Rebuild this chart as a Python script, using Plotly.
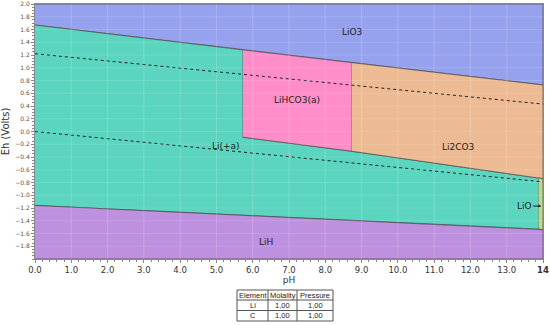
import plotly.graph_objects as go

# ---- data ----
ph_split = [0.0, 5.73, 8.73, 13.88, 14.0]          # pH of region boundaries
o2_eh = [1.67, 1.28, 1.08, 0.73]                    # LiO3 lower boundary at pH 0, 5.73, 8.73, 14
hco3_bottom_eh = [-0.09, -0.31]                      # LiHCO3(a) lower edge at pH 5.73, 8.73
co3_bottom_eh = [-0.31, -0.73, -0.74]                # Li2CO3 lower edge at pH 8.73, 13.88, 14
lih_top_eh = [-1.16, -1.53, -1.54]                   # LiH upper edge at pH 0, 13.88, 14
water_ph = [0.0, 14.0]
water_upper_eh = [1.22, 0.43]
water_lower_eh = [0.0, -0.79]
eh_min, eh_max = -2.0, 2.0

labels = ["LiO3", "LiHCO3(a)", "Li2CO3", "Li(+a)", "LiH"]
label_ph = [8.73, 7.22, 11.65, 5.26, 6.36]
label_eh = [1.56, 0.50, -0.25, -0.23, -1.73]

x_ticks = [0, 1, 2, 3, 4, 5, 6, 7, 8, 9, 10, 11, 12, 13, 14]
x_ticktext = ["0.0", "1.0", "2.0", "3.0", "4.0", "5.0", "6.0", "7.0", "8.0", "9.0",
              "10.0", "11.0", "12.0", "13.0", "<b>14</b>"]
y_ticks = [2.0, 1.8, 1.6, 1.4, 1.2, 1.0, 0.8, 0.6, 0.4, 0.2, 0.0,
           -0.2, -0.4, -0.6, -0.8, -1.0, -1.2, -1.4, -1.6, -1.8]

table_header = ["Element", "Molality", "Pressure"]
table_rows = [["Li", "1,00", "1,00"], ["C", "1,00", "1,00"]]

p0, p1, p2, p3, p4 = ph_split
regions = {
    "LiO3": ([p0, p4, p4, p2, p1, p0], [eh_max, eh_max, o2_eh[3], o2_eh[2], o2_eh[1], o2_eh[0]], "#97A2EE"),
    "Li(+a)": ([p0, p1, p1, p2, p3, p3, p0],
               [o2_eh[0], o2_eh[1], hco3_bottom_eh[0], hco3_bottom_eh[1], co3_bottom_eh[1], lih_top_eh[1], lih_top_eh[0]],
               "#5BD5BF"),
    "LiHCO3(a)": ([p1, p2, p2, p1], [o2_eh[1], o2_eh[2], hco3_bottom_eh[1], hco3_bottom_eh[0]], "#FF8DC9"),
    "Li2CO3": ([p2, p4, p4, p3, p2], [o2_eh[2], o2_eh[3], co3_bottom_eh[2], co3_bottom_eh[1], co3_bottom_eh[0]], "#EDBB93"),
    "LiO": ([p3, p4, p4, p3], [co3_bottom_eh[1], co3_bottom_eh[2], lih_top_eh[2], lih_top_eh[1]], "#B8DA8D"),
    "LiH": ([p0, p4, p4, p0], [lih_top_eh[0], lih_top_eh[2], eh_min, eh_min], "#BE90E0"),
}

fig = go.Figure()
for name, (xs, ys, col) in regions.items():
    fig.add_trace(go.Scatter(x=xs, y=ys, fill="toself", fillcolor=col, mode="lines",
                             line=dict(color="rgba(70,70,70,0.7)", width=1),
                             hoverinfo="skip", showlegend=False))

for ys in (water_upper_eh, water_lower_eh):
    fig.add_trace(go.Scatter(x=water_ph, y=ys, mode="lines",
                             line=dict(color="#222", width=1, dash="dot"),
                             hoverinfo="skip", showlegend=False))

# faint grid lines above fills
shapes = []
for xv in x_ticks[1:-1]:
    shapes.append(dict(type="line", xref="x", yref="paper", x0=xv, x1=xv, y0=0, y1=1,
                       line=dict(color="rgba(255,255,255,0.18)", width=1), layer="above"))
for yv in y_ticks[1:]:
    shapes.append(dict(type="line", xref="paper", yref="y", x0=0, x1=1, y0=yv, y1=yv,
                       line=dict(color="rgba(255,255,255,0.12)", width=1), layer="above"))

annotations = []
for t, xv, yv in zip(labels, label_ph, label_eh):
    annotations.append(dict(x=xv, y=yv, text=t, showarrow=False,
                            font=dict(family="DejaVu Sans", size=9, color="#222")))
annotations.append(dict(x=13.95, y=-1.17, text="LiO", showarrow=True, ax=-17, ay=0,
                        arrowhead=2, arrowsize=0.6, arrowwidth=1, arrowcolor="#222",
                        font=dict(family="DejaVu Sans", size=9, color="#222")))

W, H = 550, 325
L, R, T, B = 35, 7, 4, 66
pw, ph_ = W - L - R, H - T - B
def px(xp):
    return (xp - L) / pw
def py(yp):
    return (H - B - yp) / ph_

col_edges = [237, 268, 297, 333]
row_edges = [290, 300, 310.5, 321]
tcolor = "#555"
for ce in col_edges:
    shapes.append(dict(type="line", xref="paper", yref="paper", x0=px(ce), x1=px(ce),
                       y0=py(row_edges[0]), y1=py(row_edges[-1]), line=dict(color=tcolor, width=1)))
for re in row_edges:
    shapes.append(dict(type="line", xref="paper", yref="paper", x0=px(col_edges[0]), x1=px(col_edges[-1]),
                       y0=py(re), y1=py(re), line=dict(color=tcolor, width=1)))
all_rows = [table_header] + table_rows
for ri, row in enumerate(all_rows):
    for ci, cell in enumerate(row):
        annotations.append(dict(xref="paper", yref="paper",
                                x=px((col_edges[ci] + col_edges[ci + 1]) / 2),
                                y=py((row_edges[ri] + row_edges[ri + 1]) / 2),
                                text=cell, showarrow=False, xanchor="center", yanchor="middle",
                                font=dict(family="Liberation Sans", size=7.5, color="#222")))

fig.update_layout(
    width=W, height=H, margin=dict(l=L, r=R, t=T, b=B, autoexpand=False),
    paper_bgcolor="white", plot_bgcolor="white",
    shapes=shapes, annotations=annotations,
    xaxis=dict(range=[0, 14], tickvals=x_ticks, ticktext=x_ticktext, automargin=False,
               tickfont=dict(family="DejaVu Sans", size=8.5, color="#333"),
               showgrid=False, zeroline=False, showline=True, linecolor="#888", mirror=True,
               ticks="outside", ticklen=3, tickcolor="#888",
               minor=dict(ticks="outside", ticklen=2, tickcolor="#888", dtick=0.2),
               title=dict(text="pH", font=dict(family="DejaVu Sans", size=9, color="#333"), standoff=1)),
    yaxis=dict(range=[eh_min, eh_max], tickvals=y_ticks, tickformat=".1f", automargin=False,
               tickfont=dict(family="DejaVu Sans", size=6, color="#555"),
               showgrid=False, zeroline=False, showline=True, linecolor="#888", mirror=True,
               ticks="outside", ticklen=3, tickcolor="#888",
               minor=dict(ticks="outside", ticklen=2, tickcolor="#888", dtick=0.05),
               title=dict(text="Eh (Volts)", font=dict(family="DejaVu Sans", size=10, color="#333"), standoff=6)),
)

fig.write_html("out.html", config={"displayModeBar": False},
               post_script="document.body.style.margin='0';document.body.style.overflow='hidden';")
